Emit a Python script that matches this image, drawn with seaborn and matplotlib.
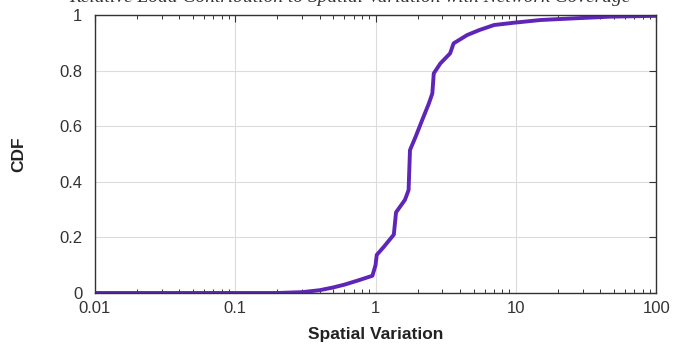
import numpy as np
import pandas as pd
import matplotlib
matplotlib.use("Agg")
import matplotlib.pyplot as plt
import seaborn as sns
from matplotlib.ticker import LogLocator, NullFormatter

variation = [0.01, 0.2, 0.3, 0.4, 0.5, 0.6, 0.75, 0.95, 1.0, 1.02, 1.15, 1.35, 1.4,
             1.62, 1.72, 1.76, 1.93, 2.15, 2.4, 2.54, 2.6, 2.9, 3.4, 3.6, 4.5, 5.5,
             7.0, 9.6, 15, 26, 47, 100]
cdf = [0, 0, 0.003, 0.01, 0.02, 0.03, 0.045, 0.062, 0.1, 0.137, 0.167, 0.21, 0.29,
       0.335, 0.37, 0.514, 0.562, 0.622, 0.682, 0.718, 0.79, 0.826, 0.862, 0.898,
       0.928, 0.946, 0.964, 0.972, 0.982, 0.988, 0.994, 0.997]
x_ticks = [0.01, 0.1, 1, 10, 100]
x_labels = ["0.01", "0.1", "1", "10", "100"]
y_ticks = [0, 0.2, 0.4, 0.6, 0.8, 1]
y_labels = ["0", "0.2", "0.4", "0.6", "0.8", "1"]

sns.set_theme(style="white")
plt.rcParams['font.family'] = ['Liberation Sans', 'DejaVu Sans']

df = pd.DataFrame({"Spatial Variation": variation, "CDF": cdf})

fig = plt.figure(figsize=(6.73, 3.49), dpi=100)
ax = fig.add_axes([0.141, 0.1605, 0.834, 0.7965])

sns.lineplot(data=df, x="Spatial Variation", y="CDF", ax=ax, color="#5e25b8",
             linewidth=2.8, sort=False, estimator=None)

ax.set_xscale("log")
ax.set_xlim(0.01, 100)
ax.set_ylim(0, 1)
ax.set_xticks(x_ticks)
ax.set_xticklabels(x_labels)
ax.xaxis.set_minor_locator(LogLocator(base=10, subs=np.arange(2, 10), numticks=20))
ax.xaxis.set_minor_formatter(NullFormatter())
ax.set_yticks(y_ticks)
ax.set_yticklabels(y_labels)

ax.grid(True, which="major", color="#dcdcdc", linewidth=0.8)
ax.set_axisbelow(True)
ax.tick_params(axis="both", which="major", direction="in", length=5, width=0.8,
               top=True, right=True, labelsize=12, colors="#333333")
ax.tick_params(axis="y", which="major", pad=9)
ax.tick_params(axis="x", which="major", pad=6)
ax.tick_params(axis="x", which="minor", direction="in", length=3, width=0.7,
               top=True, bottom=True, colors="#333333")
for s in ax.spines.values():
    s.set_color("#333333")
    s.set_linewidth(1.0)

ax.set_xlabel("Spatial Variation", fontsize=12.5, fontweight="bold", labelpad=8,
              color="#222222")
ax.set_ylabel("CDF", fontsize=12.5, fontweight="bold", labelpad=24, color="#222222")

fig.text(0.52, 0.995, "Relative Load Contribution to Spatial Variation with Network Coverage",
         ha="center", va="baseline", fontsize=14, style="italic",
         family=["Liberation Serif", "DejaVu Serif"], color="#333333")

fig.savefig("out.png", dpi=100)
